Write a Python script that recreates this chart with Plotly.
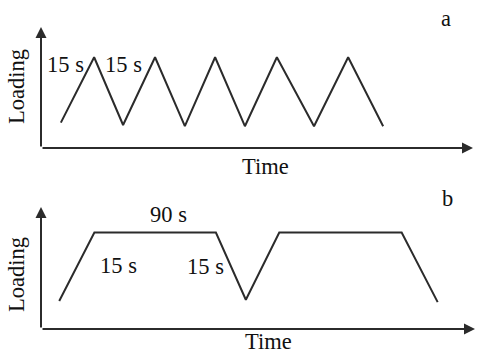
import plotly.graph_objects as go

# panel a: repeated 15 s up / 15 s down loading (schematic, arbitrary units)
time_a = [4.6, 12.3, 19.0, 26.4, 33.3, 40.3, 47.2, 54.6, 63.2, 71.1, 79.2]
load_a = [0.21, 0.75, 0.19, 0.75, 0.18, 0.75, 0.18, 0.75, 0.18, 0.75, 0.18]

# panel b: 15 s ramp, 90 s hold, 15 s unload
time_b = [4.2, 12.3, 40.3, 47.2, 54.9, 83.1, 91.4]
load_b = [0.23, 0.79, 0.79, 0.24, 0.79, 0.79, 0.22]

W, H = 481, 355
LINE = '#2b2b2b'
FONT = dict(family='Liberation Serif, Times New Roman, serif', size=22.5, color='#111111')


def px(x):
    return x / W


def py(y):
    return 1 - y / H


fig = go.Figure()
fig.add_trace(go.Scatter(x=time_a, y=load_a, mode='lines', xaxis='x', yaxis='y',
                         line=dict(color=LINE, width=2), showlegend=False, hoverinfo='skip'))
fig.add_trace(go.Scatter(x=time_b, y=load_b, mode='lines', xaxis='x2', yaxis='y2',
                         line=dict(color=LINE, width=2), showlegend=False, hoverinfo='skip'))

hidden = dict(visible=False, fixedrange=True, showgrid=False, zeroline=False)

annotations = []
# axis arrows
for xr, yr in (('x', 'y'), ('x2', 'y2')):
    annotations.append(dict(x=100, y=0, ax=0, ay=0, xref=xr, yref=yr, axref=xr, ayref=yr,
                            text='', showarrow=True, arrowhead=2, arrowsize=1.1,
                            arrowwidth=2, arrowcolor=LINE))
    annotations.append(dict(x=0, y=1, ax=0, ay=0, xref=xr, yref=yr, axref=xr, ayref=yr,
                            text='', showarrow=True, arrowhead=2, arrowsize=1.1,
                            arrowwidth=2, arrowcolor=LINE))

labels = [
    ('15 s', 65, 65, 0), ('15 s', 123, 65, 0), ('a', 446, 18, 0),
    ('Loading', 16, 87, -90), ('Time', 265, 166, 0),
    ('90 s', 168, 214, 0), ('15 s', 118, 265, 0), ('15 s', 205, 266, 0),
    ('b', 447, 198, 0), ('Loading', 16, 275, -90), ('Time', 268, 341, 0),
]
for txt, x, y, ang in labels:
    annotations.append(dict(x=px(x), y=py(y), xref='paper', yref='paper', text=txt,
                            showarrow=False, textangle=ang, font=FONT,
                            xanchor='center', yanchor='middle'))

fig.update_layout(
    width=W, height=H,
    margin=dict(l=0, r=0, t=0, b=0),
    plot_bgcolor='white', paper_bgcolor='white',
    xaxis=dict(domain=[px(41), px(473)], range=[0, 100], **hidden),
    yaxis=dict(domain=[py(148), py(27)], range=[0, 1], **hidden),
    xaxis2=dict(domain=[px(41), px(475)], range=[0, 100], anchor='y2', **hidden),
    yaxis2=dict(domain=[py(329), py(207)], range=[0, 1], anchor='x2', **hidden),
    annotations=annotations,
)

fig.write_html("out.html", config={'displayModeBar': False},
               post_script="document.body.style.margin='0';document.body.style.overflow='hidden';")
